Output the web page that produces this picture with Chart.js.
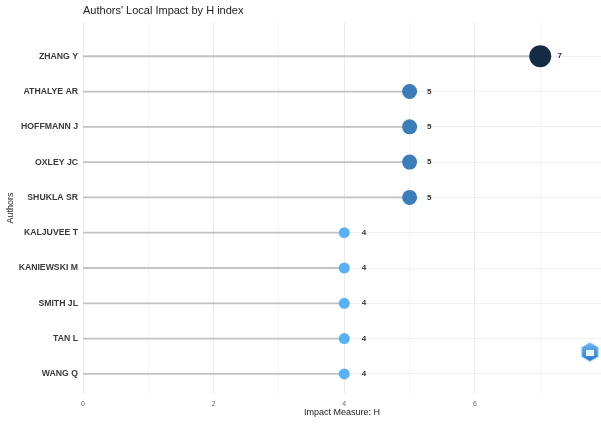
<!DOCTYPE html>
<html>
<head>
<meta charset="utf-8">
<script src="https://cdn.jsdelivr.net/npm/chart.js@4/dist/chart.umd.min.js"></script>
<style>
  html, body { margin: 0; padding: 0; background: #fff; }
  #wrap { width: 601px; height: 424px; }
</style>
</head>
<body>
<div id="wrap"><canvas id="chart" width="601" height="424"></canvas></div>
<script>
const authors = ['ZHANG Y', 'ATHALYE AR', 'HOFFMANN J', 'OXLEY JC', 'SHUKLA SR',
  'KALJUVEE T', 'KANIEWSKI M', 'SMITH JL', 'TAN L', 'WANG Q'];
const hIndex = [7, 5, 5, 5, 5, 4, 4, 4, 4, 4];
const xTicks = [0, 1, 2, 3, 4, 5, 6, 7];

const FONT = '"Liberation Sans", Arial, sans-serif';

// colour and size go with the value, like ggplot's gradient + size scale
function pointColor(v) {
  if (v >= 7) return '#132b43';
  if (v >= 5) return '#3a7db8';
  return '#56b1f7';
}
function pointSize(v) {
  if (v >= 7) return 11;
  if (v >= 5) return 7.5;
  return 5.5;
}

// one stem per author, from 0 to the value
const stems = authors.map((a, i) => ({
  type: 'line',
  order: 2,
  data: [{ x: 0, y: i }, { x: hIndex[i], y: i }],
  borderColor: '#c2c2c2',
  borderWidth: 1.8,
  pointRadius: 0,
  fill: false,
}));

const dots = {
  type: 'scatter',
  order: 1,
  data: authors.map((a, i) => ({ x: hIndex[i], y: i })),
  pointRadius: hIndex.map(pointSize),
  pointHoverRadius: hIndex.map(pointSize),
  backgroundColor: hIndex.map(pointColor),
  borderWidth: 0,
};

const extras = {
  id: 'extras',
  afterDatasetsDraw(chart) {
    const ctx = chart.ctx;
    const xs = chart.scales.x, ys = chart.scales.y;
    const area = chart.chartArea;
    ctx.save();
    // value labels
    ctx.fillStyle = '#333';
    ctx.font = 'bold 8px ' + FONT;
    ctx.textAlign = 'center';
    ctx.textBaseline = 'middle';
    hIndex.forEach((v, i) => {
      ctx.fillText(String(v), xs.getPixelForValue(v + 0.3), ys.getPixelForValue(i));
    });
    // title
    ctx.fillStyle = '#222';
    ctx.font = '11px ' + FONT;
    ctx.textAlign = 'left';
    ctx.fillText("Authors' Local Impact by H index", area.left, 11);
    // axis titles
    ctx.font = '9px ' + FONT;
    ctx.textAlign = 'center';
    ctx.fillText('Impact Measure: H', (area.left + area.right) / 2, 413);
    ctx.save();
    ctx.translate(11, (area.top + area.bottom) / 2);
    ctx.rotate(-Math.PI / 2);
    ctx.fillText('Authors', 0, 0);
    ctx.restore();
    // little hexagon badge
    const cx = 590, cy = 352, r = 9.5;
    ctx.beginPath();
    for (let k = 0; k < 6; k++) {
      const a = Math.PI / 3 * k - Math.PI / 2;
      const px = cx + r * Math.cos(a), py = cy + r * Math.sin(a);
      if (k === 0) ctx.moveTo(px, py); else ctx.lineTo(px, py);
    }
    ctx.closePath();
    const g = ctx.createLinearGradient(cx, cy - r, cx, cy + r);
    g.addColorStop(0, '#6fb6ee');
    g.addColorStop(1, '#2a78c8');
    ctx.fillStyle = g;
    ctx.fill();
    ctx.strokeStyle = '#a9d8ff';
    ctx.lineWidth = 1;
    ctx.stroke();
    ctx.fillStyle = '#e8f4ff';
    ctx.fillRect(cx - 4, cy - 2, 8, 6);
    ctx.restore();
  }
};

new Chart(document.getElementById('chart'), {
  data: { datasets: [...stems, dots] },
  options: {
    responsive: false,
    animation: false,
    layout: { autoPadding: false, padding: { top: 22, right: 0, left: 0, bottom: 0 } },
    plugins: {
      legend: { display: false },
      tooltip: { enabled: false },
    },
    scales: {
      x: {
        type: 'linear',
        min: 0,
        max: 7.93,
        afterBuildTicks: (s) => { s.ticks = xTicks.map(v => ({ value: v })); },
        afterFit: (s) => { s.height = 30; s.paddingRight = 0; s.paddingLeft = 0; },
        grid: {
          color: (c) => (c.tick && c.tick.value % 2 === 0) ? '#ebebeb' : '#f4f4f4',
          drawTicks: false,
        },
        border: { display: false },
        ticks: {
          padding: 6,
          color: '#666',
          font: { family: FONT, size: 7 },
          callback: (v) => (v % 2 === 0 ? String(v) : ''),
          maxRotation: 0,
        },
      },
      y: {
        type: 'linear',
        reverse: true,
        min: -0.97,
        max: 9.57,
        afterBuildTicks: (s) => { s.ticks = authors.map((a, i) => ({ value: i })); },
        afterFit: (s) => { s.width = 83; s.paddingTop = 0; s.paddingBottom = 0; },
        grid: { color: '#f0f0f0', drawTicks: false },
        border: { display: false },
        ticks: {
          padding: 5,
          color: '#3a3a3a',
          font: { family: FONT, size: 8.7, weight: 'bold' },
          callback: (v) => authors[v] || '',
        },
      },
    },
  },
  plugins: [extras],
});
</script>
</body>
</html>
